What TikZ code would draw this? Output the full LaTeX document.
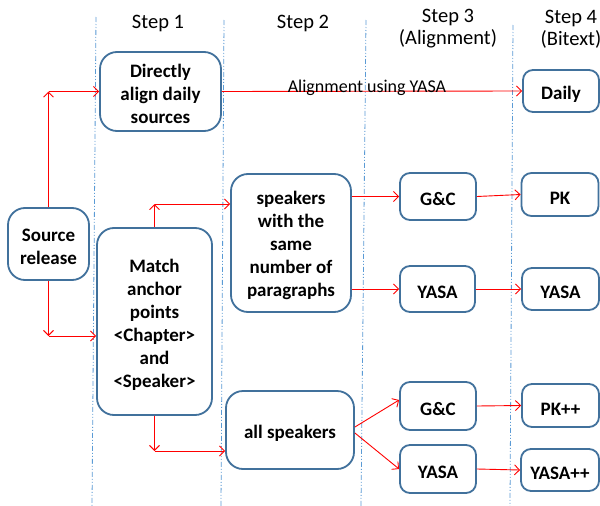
\documentclass[tikz,border=0pt]{standalone}
\usepackage{fontspec}
\setmainfont{Carlito}
\usetikzlibrary{arrows.meta}
\definecolor{boxblue}{HTML}{41719C}
\definecolor{guide}{HTML}{5B9BD5}
\newcommand\toplift{\rule{0pt}{19pt}}
\begin{document}
\begin{tikzpicture}[x=1pt,y=-1pt,
  box/.style={draw=boxblue, line width=1.8pt, rounded corners=10pt, fill=white,
    align=center, inner sep=0pt, font=\fontsize{19}{23}\selectfont\bfseries},
  bigbox/.style={box, rounded corners=17pt},
  arr/.style={draw=red, line width=0.9pt, -{Straight Barb[length=5pt,width=10pt]}},
  guideline/.style={draw=guide, line width=0.8pt, dash pattern=on 5pt off 2pt on 1pt off 2pt on 1pt off 2pt},
  hdr/.style={align=center, inner sep=0pt, font=\fontsize{20.5}{22}\selectfont}]
\useasboundingbox (0,0) rectangle (600,506);
\fill[white] (0,0) rectangle (600,506);
% guides
\draw[guideline] (96,17) -- (92,506);
\draw[guideline] (224,20) -- (221,506);
\draw[guideline] (366,20) -- (361,506);
\draw[guideline] (513,25) -- (510,506);
% headers
\node[hdr] (h1) at (158,23) {Step 1};
\node[hdr] (h2) at (303,23) {Step 2};
\node[hdr] (h3) at (448,29) {Step 3\\(Alignment)};
\node[hdr] (h4) at (571,29) {Step 4\\(Bitext)};
% boxes
\node[bigbox, minimum width=121pt, minimum height=79pt] (direct) at (160.5,91.5) {\toplift Directly\\align daily\\sources};
\node[bigbox, minimum width=81pt, minimum height=72pt] (src) at (48.5,244) {\toplift Source\\release};
\node[bigbox, minimum width=115pt, minimum height=187pt] (match) at (154.5,321.5) {\toplift Match\\anchor\\points\\<Chapter>\\and\\<Speaker>};
\node[bigbox, minimum width=120pt, minimum height=138pt] (spk) at (291,243) {\toplift speakers\\with the\\same\\number of\\paragraphs};
\node[bigbox, minimum width=128pt, minimum height=78pt] (all) at (290,430) {\toplift all speakers};
\node[box, minimum width=76pt, minimum height=47pt] (gc1) at (438,196.5) {\toplift G\&C};
\node[box, minimum width=77pt, minimum height=43pt] (pk) at (560,194.5) {\toplift PK};
\node[box, minimum width=76pt, minimum height=42pt] (daily) at (561,91) {\toplift Daily};
\node[box, minimum width=75pt, minimum height=46pt] (yasa1) at (437.5,289) {\toplift YASA};
\node[box, minimum width=77pt, minimum height=42pt] (yasa4) at (560.5,289) {\toplift YASA};
\node[box, minimum width=76pt, minimum height=48pt] (gc2) at (438,406) {\toplift G\&C};
\node[box, minimum width=77pt, minimum height=43pt] (pkpp) at (560.5,405.5) {\toplift PK++};
\node[box, minimum width=76pt, minimum height=48pt] (yasa2) at (438,469) {\toplift YASA};
\node[box, minimum width=78pt, minimum height=42pt] (yasapp) at (560,470) {\toplift YASA++};
% corner points
\coordinate (c1) at (48.5,91.5);
\coordinate (c2) at (48.5,336);
\coordinate (c3) at (154.5,204);
\coordinate (c4) at (154.5,451);
% connectors
\draw[arr] (src.north) -- (c1);
\draw[arr] (c1) -- (direct.west);
\draw[arr] (src.south) -- (c2);
\draw[arr] (c2) -- (match.west |- c2);
\draw[arr] (match.north) -- (c3);
\draw[arr] (c3) -- (spk.west |- c3);
\draw[arr] (match.south) -- (c4);
\draw[arr] (c4) -- (all.west |- c4);
\draw[arr] (direct.east) -- (daily.west);
\node[inner sep=0pt, font=\fontsize{18}{20}\selectfont] (lbl) at (367,88) {Alignment using YASA};
\draw[arr] (spk.east |- gc1.west) -- (gc1.west);
\draw[arr] (gc1.east) -- (pk.west);
\draw[arr] (spk.east |- yasa1.west) -- (yasa1.west);
\draw[arr] (yasa1.east) -- (yasa4.west);
\draw[arr] ([yshift=3pt]all.east) -- ([yshift=6pt]gc2.west);
\draw[arr] ([yshift=-3pt]all.east) -- (yasa2.west);
\draw[arr] (gc2.east) -- (pkpp.west);
\draw[arr] (yasa2.east) -- (yasapp.west);
\end{tikzpicture}
\end{document}
